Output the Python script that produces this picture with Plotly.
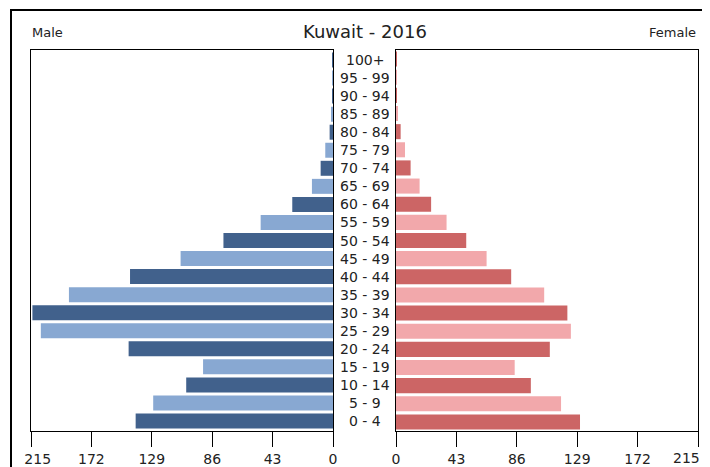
import plotly.graph_objects as go

# the page body keeps its default 8px margin, so the figure is drawn 8px smaller
# and every position below is given in window pixels, shifted by OFF
OFF = 8
W, H = 710 - OFF, 467 - OFF

age_groups = ["0 - 4", "5 - 9", "10 - 14", "15 - 19", "20 - 24", "25 - 29", "30 - 34",
              "35 - 39", "40 - 44", "45 - 49", "50 - 54", "55 - 59", "60 - 64", "65 - 69",
              "70 - 74", "75 - 79", "80 - 84", "85 - 89", "90 - 94", "95 - 99", "100+"]
male = [140.5, 128, 104.5, 92.5, 145.5, 208, 214, 188, 144.5, 108.5, 78,
        51.5, 29, 15, 8.8, 5.5, 2.4, 1.4, 0.6, 0.3, 0.3]
female = [131, 117.5, 96, 84.5, 109.5, 124.5, 122, 105.5, 82, 64.5, 50,
          36, 25, 16.8, 10.4, 6.4, 3.3, 1.3, 0.6, 0.3, 0.3]
tick_vals = [0, 43, 86, 129, 172, 215]
title = "Kuwait - 2016"

male_colors = ["#41618c" if i % 2 == 0 else "#88a8d2" for i in range(len(age_groups))]
female_colors = ["#cc6565" if i % 2 == 0 else "#f2a8ab" for i in range(len(age_groups))]

FONT = "DejaVu Sans"
NB = "\u00a0"


def px_x(p):
    return (p - OFF) / W


def px_y(p):
    return 1 - (p - OFF) / H


# end labels are nudged inward so they stay inside the picture
left_text = [str(v) for v in tick_vals]
left_text[-1] = NB * 3 + left_text[-1]
right_text = [str(v) for v in tick_vals]
right_text[-1] = ""  # drawn as an annotation, pulled left of its tick

fig = go.Figure()
fig.add_trace(go.Bar(
    y=age_groups, x=male, orientation="h", xaxis="x", yaxis="y",
    marker=dict(color=male_colors, line=dict(width=0)), name="Male",
))
fig.add_trace(go.Bar(
    y=age_groups, x=female, orientation="h", xaxis="x2", yaxis="y2",
    marker=dict(color=female_colors, line=dict(width=0)), name="Female",
))

xcommon = dict(
    tickvals=tick_vals,
    ticks="outside", ticklen=15, tickwidth=1, tickcolor="black",
    showline=True, linecolor="black", linewidth=1, mirror=True,
    showgrid=False, zeroline=False, fixedrange=True, automargin=False,
    ticklabeloverflow="allow",
    tickfont=dict(family=FONT, size=14, color="#222"),
)
ycommon = dict(
    type="category", categoryorder="array", categoryarray=age_groups,
    showline=True, linecolor="black", linewidth=1, mirror=True,
    showticklabels=False, ticks="", showgrid=False, zeroline=False,
    automargin=False, fixedrange=True,
    domain=[px_y(431), px_y(50)],
)

fig.update_layout(
    template="none",
    width=W, height=H,
    margin=dict(l=0, r=0, t=0, b=0, autoexpand=False),
    paper_bgcolor="white", plot_bgcolor="white",
    showlegend=False, bargap=0.17,
    xaxis=dict(domain=[px_x(31), px_x(333)], range=[215, 0], anchor="y",
               ticktext=left_text, **xcommon),
    xaxis2=dict(domain=[px_x(396), px_x(698)], range=[0, 215], anchor="y2",
                ticktext=right_text, **xcommon),
    yaxis=dict(anchor="x", **ycommon),
    yaxis2=dict(anchor="x2", **ycommon),
)

# age labels between the two panels
for ag in age_groups:
    fig.add_annotation(
        x=px_x(364.5), xref="paper", y=ag, yref="y",
        text=ag, showarrow=False, xanchor="center", yanchor="middle",
        font=dict(family=FONT, size=14, color="#222"),
    )

fig.add_annotation(x=px_x(702), y=px_y(458), xref="paper", yref="paper",
                   text=str(tick_vals[-1]), showarrow=False,
                   xanchor="right", yanchor="middle",
                   font=dict(family=FONT, size=14, color="#222"))

fig.add_annotation(x=px_x(365), y=px_y(31), xref="paper", yref="paper", text=title,
                   showarrow=False, xanchor="center", yanchor="middle",
                   font=dict(family=FONT, size=18, color="#222"))
fig.add_annotation(x=px_x(30), y=px_y(32), xref="paper", yref="paper", text="Male",
                   showarrow=False, xanchor="left", yanchor="middle",
                   font=dict(family=FONT, size=13, color="#222"))
fig.add_annotation(x=px_x(698), y=px_y(32), xref="paper", yref="paper", text="Female",
                   showarrow=False, xanchor="right", yanchor="middle",
                   font=dict(family=FONT, size=13, color="#222"))

# outer frame running off the right and bottom edges
fig.add_shape(type="rect", xref="paper", yref="paper",
              x0=px_x(11), y0=px_y(10), x1=1.02, y1=-0.02,
              line=dict(color="black", width=2))

fig.write_html("out.html")
